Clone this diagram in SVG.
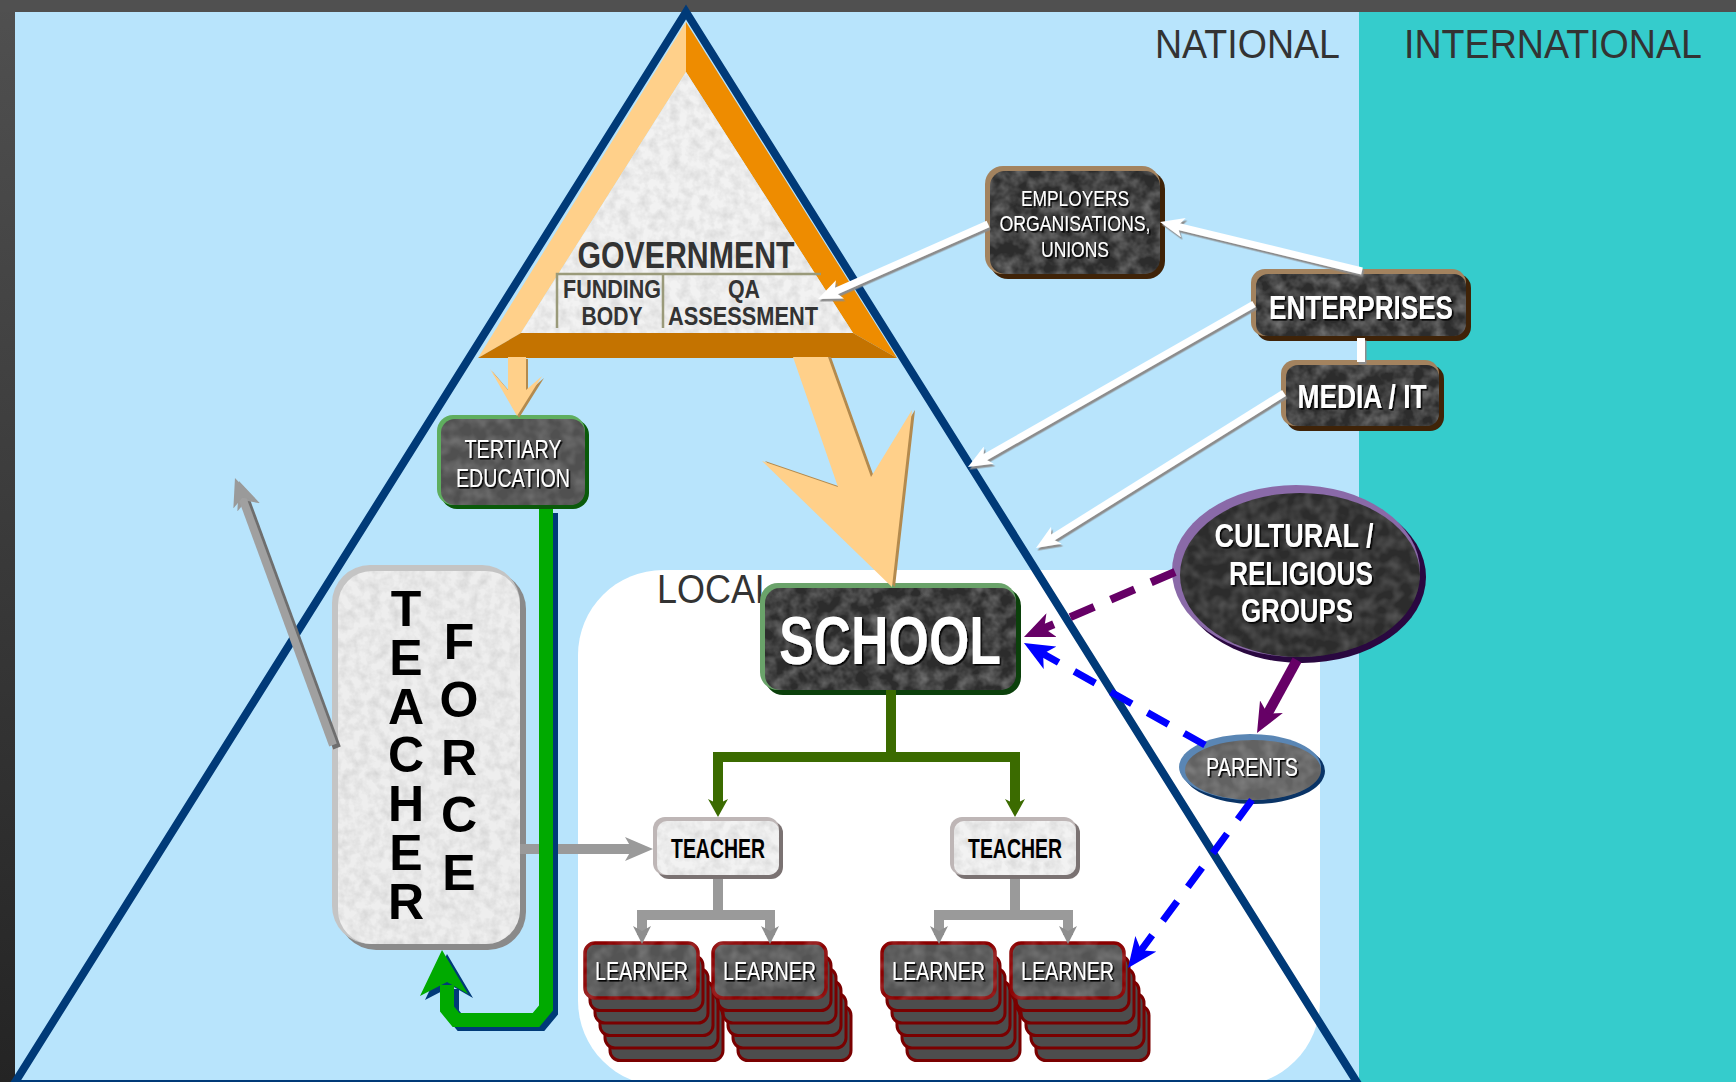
<svg xmlns="http://www.w3.org/2000/svg" width="1736" height="1082" viewBox="0 0 1736 1082">
<defs>
  <linearGradient id="frame" x1="0" y1="0" x2="0" y2="1">
    <stop offset="0" stop-color="#505050"/>
    <stop offset="1" stop-color="#242424"/>
  </linearGradient>
  <filter id="texD" color-interpolation-filters="sRGB">
    <feTurbulence type="fractalNoise" baseFrequency="0.07" numOctaves="3" seed="7" result="n"/>
    <feColorMatrix in="n" type="matrix" values="0 0 0 0 1  0 0 0 0 1  0 0 0 0 1  0.6 0 0 0 -0.2" result="w"/>
    <feComposite in="w" in2="SourceGraphic" operator="in" result="wc"/>
    <feMerge><feMergeNode in="SourceGraphic"/><feMergeNode in="wc"/></feMerge>
  </filter>
  <filter id="texS" color-interpolation-filters="sRGB">
    <feTurbulence type="fractalNoise" baseFrequency="0.08" numOctaves="2" seed="11" result="n"/>
    <feColorMatrix in="n" type="matrix" values="0 0 0 0 1  0 0 0 0 1  0 0 0 0 1  0.35 0 0 0 -0.12" result="w"/>
    <feComposite in="w" in2="SourceGraphic" operator="in" result="wc"/>
    <feMerge><feMergeNode in="SourceGraphic"/><feMergeNode in="wc"/></feMerge>
  </filter>
  <filter id="texL" color-interpolation-filters="sRGB">
    <feTurbulence type="fractalNoise" baseFrequency="0.1" numOctaves="3" seed="3" result="n"/>
    <feColorMatrix in="n" type="matrix" values="0 0 0 0 0.6  0 0 0 0 0.6  0 0 0 0 0.6  0.5 0 0 0 -0.18" result="w"/>
    <feComposite in="w" in2="SourceGraphic" operator="in" result="wc"/>
    <feMerge><feMergeNode in="SourceGraphic"/><feMergeNode in="wc"/></feMerge>
  </filter>
  <filter id="sh" x="-10%" y="-20%" width="120%" height="140%">
    <feDropShadow dx="1.6" dy="1.6" stdDeviation="0.3" flood-color="#000" flood-opacity="0.95"/>
  </filter>
  <filter id="dsW" x="-5%" y="-5%" width="110%" height="110%">
    <feDropShadow dx="1.5" dy="2.5" stdDeviation="0" flood-color="#8c8c8c"/>
  </filter>
  <marker id="ahW" viewBox="0 0 24 20" refX="12" refY="10" markerWidth="24" markerHeight="20" orient="auto" markerUnits="userSpaceOnUse">
    <path d="M0,0 L24,10 L0,20 L6,10 Z" fill="#ffffff"/>
  </marker>
  <marker id="ahG" viewBox="0 0 28 24" refX="14" refY="12" markerWidth="28" markerHeight="24" orient="auto" markerUnits="userSpaceOnUse">
    <path d="M0,0 L28,12 L0,24 L7,12 Z" fill="#9a9a9a"/>
  </marker>
  <marker id="ahG2" viewBox="0 0 18 18" refX="9" refY="9" markerWidth="18" markerHeight="18" orient="auto" markerUnits="userSpaceOnUse">
    <path d="M0,0 L18,9 L0,18 L5,9 Z" fill="#8e8e8e"/>
  </marker>
  <marker id="ahGr" viewBox="0 0 18 20" refX="9" refY="10" markerWidth="18" markerHeight="20" orient="auto" markerUnits="userSpaceOnUse">
    <path d="M0,0 L18,10 L0,20 L5,10 Z" fill="#3b6b00"/>
  </marker>
  <marker id="ahP" viewBox="0 0 30 26" refX="14" refY="13" markerWidth="30" markerHeight="26" orient="auto" markerUnits="userSpaceOnUse">
    <path d="M0,0 L30,13 L0,26 L8,13 Z" fill="#660066"/>
  </marker>
  <marker id="ahB" viewBox="0 0 30 26" refX="14" refY="13" markerWidth="30" markerHeight="26" orient="auto" markerUnits="userSpaceOnUse">
    <path d="M0,0 L30,13 L0,26 L8,13 Z" fill="#0000ff"/>
  </marker>
</defs>
<style>
  text { font-family: "Liberation Sans", Arial, sans-serif; }
  .c { text-anchor: middle; }
  .b { font-weight: bold; }
  .lbl { fill: #ffffff; }
  .zone { fill: #333333; font-size: 40px; }
  .tf { font-size: 50px; font-weight: bold; fill: #000000; writing-mode: vertical-lr; text-orientation: upright; }
  .gov { fill: #333333; font-weight: bold; text-anchor: middle; }
  .card { fill: #4d4d4d; stroke: #7a0000; stroke-width: 3; }
  .face { fill: #545454; stroke: #8B0000; stroke-width: 3.5; }
  .wline { fill: none; stroke: #ffffff; stroke-width: 7; marker-end: url(#ahW); }
</style>

<g id="background">
  <rect x="0" y="0" width="1736" height="1082" fill="url(#frame)"/>
  <rect x="0" y="0" width="1736" height="12" fill="#505050"/>
  <rect x="15" y="12" width="1344" height="1070" fill="#B8E4FC"/>
  <rect x="1359" y="12" width="377" height="1070" fill="#35CCCC"/>
  <rect x="578" y="570" width="742" height="516" rx="85" fill="#ffffff"/>
  <text class="zone" x="1155" y="58" textLength="185" lengthAdjust="spacingAndGlyphs">NATIONAL</text>
  <text class="zone" x="1404" y="58" textLength="298" lengthAdjust="spacingAndGlyphs">INTERNATIONAL</text>
  <text class="zone" x="657" y="603" textLength="118" lengthAdjust="spacingAndGlyphs">LOCAL</text>
  <polygon points="686,12 14,1084 1358,1084" fill="none" stroke="#003A78" stroke-width="8"/>
</g>

<g id="government">
  <polygon points="686,22 686,72 521,333 478,358" fill="#FFD08A"/>
  <polygon points="686,22 897,358 853,333 686,72" fill="#EE8C00"/>
  <polygon points="478,358 521,333 853,333 897,358" fill="#C47300"/>
  <polygon points="686,72 521,333 853,333" fill="#F2F2F2" filter="url(#texL)"/>
  <path d="M557,328 L557,274 L821,274 M663,274 L663,328" fill="none" stroke="#9a9a7a" stroke-width="2.5"/>
  <text class="gov" x="686" y="268" font-size="36" textLength="217" lengthAdjust="spacingAndGlyphs">GOVERNMENT</text>
  <text class="gov" x="612" y="298" font-size="25" textLength="98" lengthAdjust="spacingAndGlyphs">FUNDING</text>
  <text class="gov" x="612" y="325" font-size="25" textLength="61" lengthAdjust="spacingAndGlyphs">BODY</text>
  <text class="gov" x="744" y="298" font-size="25" textLength="32" lengthAdjust="spacingAndGlyphs">QA</text>
  <text class="gov" x="743" y="325" font-size="25" textLength="150" lengthAdjust="spacingAndGlyphs">ASSESSMENT</text>
</g>

<g id="tertiary-education">
  <rect x="441" y="419" width="148" height="90" rx="16" fill="#0A5A0A"/>
  <rect x="437" y="415" width="148" height="90" rx="16" fill="#5FAE5F"/>
  <rect x="441" y="419" width="144" height="86" rx="14" fill="#505050" filter="url(#texS)"/>
  <text class="lbl c" x="513" y="458" font-size="25" textLength="97" lengthAdjust="spacingAndGlyphs" filter="url(#sh)">TERTIARY</text>
  <text class="lbl c" x="513" y="487" font-size="25" textLength="114" lengthAdjust="spacingAndGlyphs" filter="url(#sh)">EDUCATION</text>
</g>

<g id="teacher-force">
  <rect x="338" y="571" width="188" height="379" rx="38" fill="#8A8A8A"/>
  <rect x="332" y="565" width="188" height="379" rx="38" fill="#C4C4C4"/>
  <rect x="338" y="571" width="182" height="373" rx="34" fill="#EEEEEE" filter="url(#texL)"/>
  <text class="tf" x="406" y="581" letter-spacing="-7.2">TEACHER</text>
  <text class="tf" x="459" y="614" letter-spacing="1.8">FORCE</text>
</g>

<g id="school">
  <rect x="765" y="588" width="256" height="107" rx="18" fill="#0B400B"/>
  <rect x="760" y="583" width="256" height="107" rx="18" fill="#6AA36A"/>
  <rect x="765" y="588" width="251" height="102" rx="15" fill="#2C2C2C" filter="url(#texD)"/>
  <text class="lbl c b" x="890" y="664" font-size="68" textLength="222" lengthAdjust="spacingAndGlyphs" filter="url(#sh)">SCHOOL</text>
</g>

<g id="teacher-1">
  <rect x="657" y="821" width="126" height="58" rx="12" fill="#7A7272"/>
  <rect x="653" y="817" width="126" height="58" rx="12" fill="#BEB6B6"/>
  <rect x="657" y="821" width="122" height="54" rx="10" fill="#F2F2F2" filter="url(#texL)"/>
  <text class="c b" x="718" y="858" font-size="28" fill="#000" textLength="94" lengthAdjust="spacingAndGlyphs">TEACHER</text>
</g>
<g id="teacher-2">
  <rect x="954" y="821" width="126" height="58" rx="12" fill="#7A7272"/>
  <rect x="950" y="817" width="126" height="58" rx="12" fill="#BEB6B6"/>
  <rect x="954" y="821" width="122" height="54" rx="10" fill="#F2F2F2" filter="url(#texL)"/>
  <text class="c b" x="1015" y="858" font-size="28" fill="#000" textLength="94" lengthAdjust="spacingAndGlyphs">TEACHER</text>
</g>

<g id="learner-1">
  <rect class="card" x="610" y="1005.5" width="113" height="55" rx="10"/>
  <rect class="card" x="605" y="993" width="113" height="55" rx="10"/>
  <rect class="card" x="600" y="980.5" width="113" height="55" rx="10"/>
  <rect class="card" x="595" y="968" width="113" height="55" rx="10"/>
  <rect class="card" x="590" y="955.5" width="113" height="55" rx="10"/>
  <rect class="face" x="585" y="943" width="113" height="55" rx="10" filter="url(#texS)"/>
  <text class="lbl c" x="641.5" y="980" font-size="26" textLength="93" lengthAdjust="spacingAndGlyphs" filter="url(#sh)">LEARNER</text>
</g>
<g id="learner-2">
  <rect class="card" x="738" y="1005.5" width="113" height="55" rx="10"/>
  <rect class="card" x="733" y="993" width="113" height="55" rx="10"/>
  <rect class="card" x="728" y="980.5" width="113" height="55" rx="10"/>
  <rect class="card" x="723" y="968" width="113" height="55" rx="10"/>
  <rect class="card" x="718" y="955.5" width="113" height="55" rx="10"/>
  <rect class="face" x="713" y="943" width="113" height="55" rx="10" filter="url(#texS)"/>
  <text class="lbl c" x="769.5" y="980" font-size="26" textLength="93" lengthAdjust="spacingAndGlyphs" filter="url(#sh)">LEARNER</text>
</g>
<g id="learner-3">
  <rect class="card" x="907" y="1005.5" width="113" height="55" rx="10"/>
  <rect class="card" x="902" y="993" width="113" height="55" rx="10"/>
  <rect class="card" x="897" y="980.5" width="113" height="55" rx="10"/>
  <rect class="card" x="892" y="968" width="113" height="55" rx="10"/>
  <rect class="card" x="887" y="955.5" width="113" height="55" rx="10"/>
  <rect class="face" x="882" y="943" width="113" height="55" rx="10" filter="url(#texS)"/>
  <text class="lbl c" x="938.5" y="980" font-size="26" textLength="93" lengthAdjust="spacingAndGlyphs" filter="url(#sh)">LEARNER</text>
</g>
<g id="learner-4">
  <rect class="card" x="1036" y="1005.5" width="113" height="55" rx="10"/>
  <rect class="card" x="1031" y="993" width="113" height="55" rx="10"/>
  <rect class="card" x="1026" y="980.5" width="113" height="55" rx="10"/>
  <rect class="card" x="1021" y="968" width="113" height="55" rx="10"/>
  <rect class="card" x="1016" y="955.5" width="113" height="55" rx="10"/>
  <rect class="face" x="1011" y="943" width="113" height="55" rx="10" filter="url(#texS)"/>
  <text class="lbl c" x="1067.5" y="980" font-size="26" textLength="93" lengthAdjust="spacingAndGlyphs" filter="url(#sh)">LEARNER</text>
</g>

<g id="employers">
  <rect x="990" y="171" width="175" height="108" rx="18" fill="#3F2308"/>
  <rect x="985" y="166" width="175" height="108" rx="18" fill="#A3835F"/>
  <rect x="990" y="171" width="170" height="103" rx="15" fill="#2C2C2C" filter="url(#texD)"/>
  <text class="lbl c" x="1075" y="206" font-size="22" textLength="108" lengthAdjust="spacingAndGlyphs" filter="url(#sh)">EMPLOYERS</text>
  <text class="lbl c" x="1075" y="231" font-size="22" textLength="151" lengthAdjust="spacingAndGlyphs" filter="url(#sh)">ORGANISATIONS,</text>
  <text class="lbl c" x="1075" y="257" font-size="22" textLength="68" lengthAdjust="spacingAndGlyphs" filter="url(#sh)">UNIONS</text>
</g>

<g id="enterprises">
  <rect x="1256" y="274" width="215" height="67" rx="14" fill="#3F2308"/>
  <rect x="1251" y="269" width="215" height="67" rx="14" fill="#A3835F"/>
  <rect x="1256" y="274" width="210" height="62" rx="12" fill="#2C2C2C" filter="url(#texD)"/>
  <text class="lbl c b" x="1361" y="319" font-size="34" textLength="184" lengthAdjust="spacingAndGlyphs" filter="url(#sh)">ENTERPRISES</text>
</g>

<g id="media-it">
  <rect x="1286" y="365" width="158" height="66" rx="14" fill="#3F2308"/>
  <rect x="1281" y="360" width="158" height="66" rx="14" fill="#A3835F"/>
  <rect x="1286" y="365" width="153" height="61" rx="12" fill="#2C2C2C" filter="url(#texD)"/>
  <text class="lbl c b" x="1362" y="408" font-size="34" textLength="129" lengthAdjust="spacingAndGlyphs" filter="url(#sh)">MEDIA / IT</text>
</g>

<g id="cultural-religious-groups">
  <ellipse cx="1302" cy="577" rx="124" ry="86" fill="#2A0840"/>
  <ellipse cx="1296" cy="571" rx="124" ry="86" fill="#8A6AA8"/>
  <ellipse cx="1300" cy="575" rx="120" ry="82" fill="#2C2C2C" filter="url(#texS)"/>
  <text class="lbl c b" x="1294" y="547" font-size="33" textLength="159" lengthAdjust="spacingAndGlyphs" filter="url(#sh)">CULTURAL /</text>
  <text class="lbl c b" x="1301" y="585" font-size="33" textLength="144" lengthAdjust="spacingAndGlyphs" filter="url(#sh)">RELIGIOUS</text>
  <text class="lbl c b" x="1297" y="622" font-size="33" textLength="112" lengthAdjust="spacingAndGlyphs" filter="url(#sh)">GROUPS</text>
</g>

<g id="parents">
  <ellipse cx="1254" cy="771" rx="71" ry="33" fill="#0A3466"/>
  <ellipse cx="1250" cy="767" rx="71" ry="33" fill="#5A86B4"/>
  <ellipse cx="1253" cy="770" rx="68" ry="30" fill="#626262" filter="url(#texS)"/>
  <text class="lbl c" x="1252" y="776" font-size="25" textLength="92" lengthAdjust="spacingAndGlyphs" filter="url(#sh)">PARENTS</text>
</g>

<g id="connectors">
  <polygon points="510,359 528,359 528,392 544,378 519,418 492,371 510,392" fill="#B38A4E"/>
  <polygon points="508,357 526,357 526,390 542,376 517,416 490,369 508,390" fill="#FFD08A"/>
  <polygon points="796,357 831,357 874,477 915,410 895,587 765,461 841,487" fill="#B38A4E"/>
  <polygon points="793,357 828,357 871,477 912,410 892,587 762,461 838,487" fill="#FFD08A"/>

  <path d="M335,747 L241.8,493.2" fill="none" stroke="#6e6e6e" stroke-width="8" marker-end="url(#ahG)" transform="translate(2,1)"/>
  <path d="M333,745 L239.8,491.2" fill="none" stroke="#a0a0a0" stroke-width="8" marker-end="url(#ahG)"/>
  <path d="M520,849 L639,849" fill="none" stroke="#9a9a9a" stroke-width="10" marker-end="url(#ahG)"/>

  <g transform="translate(5,4)" fill="#003A78">
    <path d="M546,509 L546,1008 L536,1020 L456,1020 L447,1009 L447,985" fill="none" stroke="#003A78" stroke-width="14"/>
    <polygon points="442,950 468,994 447,982 420,996"/>
  </g>
  <path d="M546,509 L546,1008 L536,1020 L456,1020 L447,1009 L447,985" fill="none" stroke="#00AA00" stroke-width="14"/>
  <polygon points="442,950 468,994 447,982 420,996" fill="#00AA00"/>

  <path d="M891,690 L891,757 L718,757 L718,808" fill="none" stroke="#3b6b00" stroke-width="10" marker-end="url(#ahGr)"/>
  <path d="M891,757 L1015,757 L1015,808" fill="none" stroke="#3b6b00" stroke-width="10" marker-end="url(#ahGr)"/>

  <path d="M718,879 L718,915 L642,915 L642,935" fill="none" stroke="#9a9a9a" stroke-width="10" marker-end="url(#ahG2)"/>
  <path d="M718,915 L770,915 L770,935" fill="none" stroke="#9a9a9a" stroke-width="10" marker-end="url(#ahG2)"/>
  <path d="M1015,879 L1015,915 L939,915 L939,935" fill="none" stroke="#9a9a9a" stroke-width="10" marker-end="url(#ahG2)"/>
  <path d="M1015,915 L1068,915 L1068,935" fill="none" stroke="#9a9a9a" stroke-width="10" marker-end="url(#ahG2)"/>

  <g filter="url(#dsW)">
    <path class="wline" d="M988,224 L829,294.2"/>
    <path class="wline" d="M1362,271 L1171.7,224.8"/>
    <path class="wline" d="M1254,304 L978.4,461.1"/>
    <path class="wline" d="M1284,393 L1046.2,541.6"/>
    <path d="M1361,338 L1361,362" fill="none" stroke="#ffffff" stroke-width="8"/>
  </g>

  <path d="M1175,572 L1038.7,630.7" fill="none" stroke="#660066" stroke-width="8" stroke-dasharray="26 18" marker-end="url(#ahP)"/>
  <path d="M1297,660 L1264.7,719" fill="none" stroke="#660066" stroke-width="10" marker-end="url(#ahP)"/>
  <path d="M1205,745 L1037.9,650.9" fill="none" stroke="#0000ff" stroke-width="7" stroke-dasharray="24 18" marker-end="url(#ahB)"/>
  <path d="M1252,800 L1137.5,955.1" fill="none" stroke="#0000ff" stroke-width="7" stroke-dasharray="24 18" marker-end="url(#ahB)"/>
</g>
</svg>
